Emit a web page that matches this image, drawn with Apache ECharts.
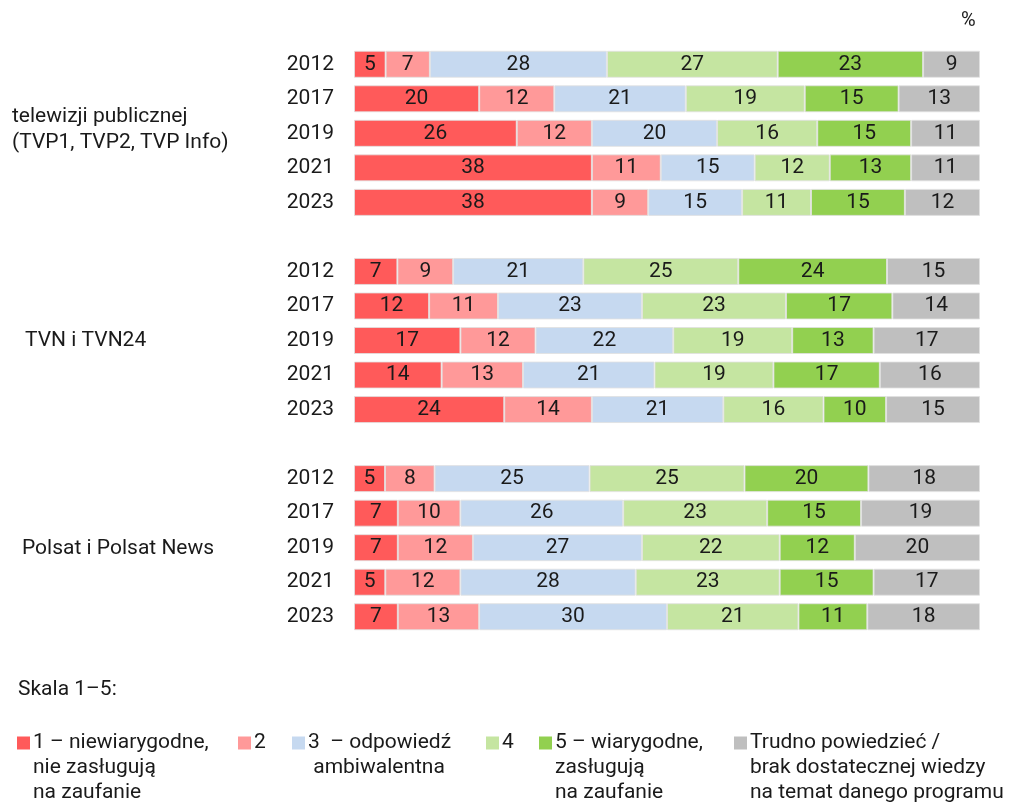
<!DOCTYPE html>
<html>
<head>
<meta charset="utf-8">
<script src="https://cdn.jsdelivr.net/npm/echarts@6/dist/echarts.min.js"></script>
<style>
  html, body { margin: 0; padding: 0; background: #fff; }
  #chart { width: 1009px; height: 803px; }
</style>
</head>
<body>
<div id="chart"></div>
<script>
// channels and years
var groups = ['telewizji publicznej\n(TVP1, TVP2, TVP Info)', 'TVN i TVN24', 'Polsat i Polsat News'];
var years = ['2012', '2017', '2019', '2021', '2023'];

// answers per scale point, 5 years for each of the 3 groups (TVP, TVN, Polsat)
var s1 = [5, 20, 26, 38, 38,   7, 12, 17, 14, 24,   5, 7, 7, 5, 7];
var s2 = [7, 12, 12, 11, 9,    9, 11, 12, 13, 14,   8, 10, 12, 12, 13];
var s3 = [28, 21, 20, 15, 15,  21, 23, 22, 21, 21,  25, 26, 27, 28, 30];
var s4 = [27, 19, 16, 12, 11,  25, 23, 19, 19, 16,  25, 23, 22, 23, 21];
var s5 = [23, 15, 15, 13, 15,  24, 17, 13, 17, 10,  20, 15, 12, 15, 11];
var s6 = [9, 13, 11, 11, 12,   15, 14, 17, 16, 15,  18, 19, 20, 17, 18];

var seriesNames = [
  '1 – niewiarygodne,\nnie zasługują\nna zaufanie',
  '2',
  '3  – odpowiedź\n ambiwalentna',
  '4',
  '5 – wiarygodne,\nzasługują\nna zaufanie',
  'Trudno powiedzieć /\nbrak dostatecznej wiedzy\nna temat danego programu'
];
var colors = ['#ff5a5a', '#ff9999', '#c6d9f0', '#c5e5a1', '#92d050', '#bfbfbf'];
var allValues = [s1, s2, s3, s4, s5, s6];

var FONT = 'Roboto';
var TXT = '#1a1a1a';

// category keys: group|year, with an empty row between groups
var categories = [];
var rowIndex = [];   // index into value arrays, -1 for spacer rows
groups.forEach(function (g, gi) {
  if (gi > 0) { categories.push('gap' + gi); rowIndex.push(-1); }
  years.forEach(function (y, yi) {
    categories.push(gi + '|' + y);
    rowIndex.push(gi * years.length + yi);
  });
});

// each row is drawn as share of its own total, labels keep the read values
var rowTotals = s1.map(function (v, i) {
  var t = 0;
  allValues.forEach(function (arr) { t += arr[i]; });
  return t;
});

var series = allValues.map(function (arr, si) {
  return {
    name: seriesNames[si],
    type: 'bar',
    stack: 'total',
    barWidth: 27,
    itemStyle: { color: colors[si], borderColor: 'rgba(225,225,225,0.8)', borderWidth: 1 },
    label: {
      show: true,
      position: 'inside',
      color: TXT,
      fontSize: 21,
      fontFamily: FONT,
      formatter: function (p) { return p.data.raw; }
    },
    data: rowIndex.map(function (ri) {
      if (ri < 0) return '-';
      return { value: arr[ri] / rowTotals[ri] * 100, raw: arr[ri] };
    })
  };
});

// legend drawn by hand so multi-line names hang below the swatch
var legendX = [17, 238, 292, 486, 539, 734];
var legendY = 743;
var legendGraphics = [];
seriesNames.forEach(function (n, i) {
  legendGraphics.push({
    type: 'rect', silent: true,
    shape: { x: legendX[i], y: legendY - 6.5, width: 13, height: 13 },
    style: { fill: colors[i] }
  });
  legendGraphics.push({
    type: 'text', silent: true,
    x: legendX[i] + 16, y: legendY - 12.5,
    style: { text: n, fontSize: 21, lineHeight: 25, fill: TXT, fontFamily: FONT, verticalAlign: 'top' }
  });
});

var chart = echarts.init(document.getElementById('chart'));
chart.setOption({
  animation: false,
  textStyle: { fontFamily: FONT },
  grid: { left: 354, right: 29, top: 47, height: 587, containLabel: false },
  xAxis: { type: 'value', min: 0, max: 100, show: false },
  yAxis: {
    type: 'category',
    inverse: true,
    data: categories,
    axisLine: { show: false },
    axisTick: { show: false },
    axisLabel: {
      margin: 20,
      fontSize: 21,
      color: TXT,
      fontFamily: FONT,
      formatter: function (v) { return v.indexOf('|') > 0 ? v.split('|')[1] : ''; }
    }
  },
  graphic: [
    { type: 'text', x: 961, y: 21, style: { text: '%', fontSize: 20, fill: TXT, verticalAlign: 'middle', fontFamily: FONT } },
    { type: 'text', x: 12, y: 130, style: { text: groups[0], fontSize: 21, lineHeight: 26, fill: TXT, verticalAlign: 'middle', fontFamily: FONT } },
    { type: 'text', x: 25, y: 341, style: { text: groups[1], fontSize: 21, fill: TXT, verticalAlign: 'middle', fontFamily: FONT } },
    { type: 'text', x: 22, y: 549, style: { text: groups[2], fontSize: 21, fill: TXT, verticalAlign: 'middle', fontFamily: FONT } },
    { type: 'text', x: 18, y: 690, style: { text: 'Skala 1–5:', fontSize: 21, fill: TXT, verticalAlign: 'middle', fontFamily: FONT } }
  ].concat(legendGraphics),
  series: series
});
</script>
</body>
</html>
